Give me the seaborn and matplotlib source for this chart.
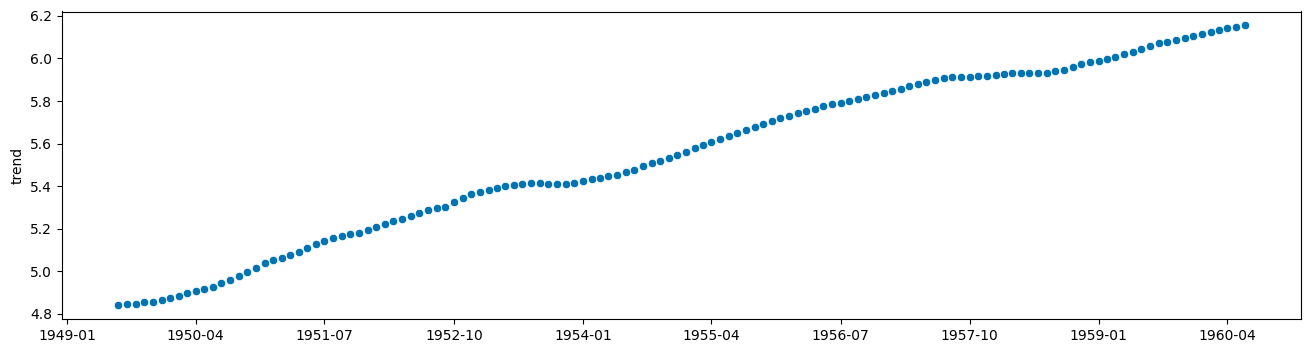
import pandas as pd
import matplotlib
matplotlib.use('Agg')
import matplotlib.pyplot as plt
import matplotlib.dates as mdates
import seaborn as sns

# Monthly trend values, 1949-07 .. 1960-06
start_month = '1949-07'
trend = [
    4.841, 4.844, 4.848, 4.855, 4.855, 4.864, 4.874, 4.883, 4.897, 4.907,
    4.916, 4.925, 4.944, 4.958, 4.977, 4.996, 5.015, 5.038, 5.052, 5.061,
    5.076, 5.090, 5.110, 5.129, 5.143, 5.157, 5.166, 5.174, 5.179, 5.193,
    5.208, 5.221, 5.235, 5.245, 5.259, 5.274, 5.288, 5.296, 5.302, 5.323,
    5.346, 5.362, 5.371, 5.382, 5.392, 5.401, 5.406, 5.409, 5.414, 5.414,
    5.409, 5.409, 5.409, 5.415, 5.424, 5.432, 5.437, 5.446, 5.451, 5.465,
    5.475, 5.493, 5.508, 5.517, 5.532, 5.546, 5.561, 5.578, 5.592, 5.606,
    5.620, 5.634, 5.648, 5.664, 5.678, 5.691, 5.706, 5.719, 5.730, 5.742,
    5.754, 5.762, 5.775, 5.786, 5.789, 5.800, 5.808, 5.817, 5.828, 5.836,
    5.846, 5.856, 5.870, 5.880, 5.889, 5.900, 5.908, 5.913, 5.913, 5.914,
    5.916, 5.916, 5.921, 5.925, 5.930, 5.930, 5.930, 5.933, 5.933, 5.939,
    5.947, 5.958, 5.972, 5.982, 5.988, 5.997, 6.005, 6.019, 6.030, 6.043,
    6.058, 6.071, 6.076, 6.085, 6.096, 6.104, 6.113, 6.123, 6.132, 6.141,
    6.147, 6.155,
]
tick_labels = ['1949-01', '1950-04', '1951-07', '1952-10', '1954-01',
               '1955-04', '1956-07', '1957-10', '1959-01', '1960-04']

df = pd.DataFrame({
    'date': pd.date_range(start_month, periods=len(trend), freq='MS'),
    'trend': trend,
})

fig, ax = plt.subplots(figsize=(13.11, 3.53), dpi=100)
fig.subplots_adjust(left=62 / 1311, right=1301 / 1311,
                    bottom=1 - 319 / 353, top=1 - 11.5 / 353)

sns.scatterplot(data=df, x='date', y='trend', color='#0173b2', ax=ax)

ax.set_xticks(pd.to_datetime(tick_labels))
ax.xaxis.set_major_formatter(mdates.DateFormatter('%Y-%m'))
ax.set_xlabel('')
ax.set_ylabel('trend')

fig.savefig('out.png', dpi=100)
